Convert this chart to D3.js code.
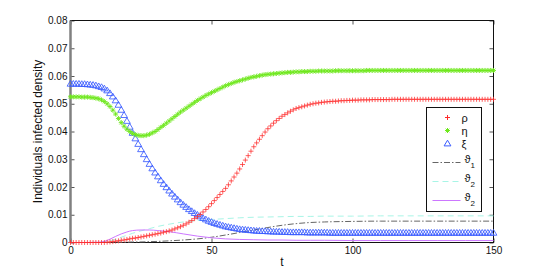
<!DOCTYPE html>
<html>
<head>
<meta charset="utf-8">
<script src="https://cdn.jsdelivr.net/npm/d3@7"></script>
<style>
  body { margin: 0; background: #fff; }
  text { font-family: "Liberation Sans", Arial, sans-serif; }
</style>
</head>
<body>
<div id="chart"></div>
<script>
// time steps of the solution (one marker per unit)
var tSteps = d3.range(0, 151);

// rho (red +)
var rho = [0,0,0,0,0,0,0,0,0,0,
  0,0,0,0.0001,0.0002,0.0003,0.0005,0.0006,0.0008,0.0009,
  0.0011,0.0013,0.0015,0.0016,0.0018,0.0020,0.0022,0.0024,0.0026,0.0028,
  0.0030,0.0032,0.0034,0.0037,0.0039,0.0042,0.0045,0.0049,0.0053,0.0057,
  0.0062,0.0067,0.0073,0.0079,0.0086,0.0093,0.0101,0.0110,0.0119,0.0129,
  0.0140,0.0151,0.0162,0.0173,0.0184,0.0195,0.0208,0.0222,0.0236,0.0250,
  0.0265,0.0281,0.0297,0.0313,0.0329,0.0345,0.0359,0.0372,0.0385,0.0398,
  0.0410,0.0420,0.0430,0.0439,0.0447,0.0455,0.0461,0.0467,0.0473,0.0478,
  0.0483,0.0486,0.0489,0.0492,0.0495,0.0498,0.0500,0.0502,0.0503,0.0505,
  0.0506,0.0507,0.0508,0.0509,0.0509,0.0510,0.0511,0.0511,0.0512,0.0512,
  0.0513,0.0513,0.0513,0.0514,0.0514,0.0514,0.0514,0.0515,0.0515,0.0515,
  0.0515,0.0515,0.0515,0.0515,0.0516,0.0516,0.0516,0.0516,0.0516,0.0516,
  0.0516,0.0516,0.0516,0.0516,0.0516,0.0516,0.0516,0.0516,0.0516,0.0516,
  0.0516,0.0516,0.0516,0.0516,0.0516,0.0516,0.0516,0.0516,0.0516,0.0516,
  0.0516,0.0516,0.0516,0.0516,0.0516,0.0516,0.0516,0.0516,0.0516,0.0516,
  0.0516];

// eta (green *)
var eta = [0.0525,0.0525,0.0525,0.0525,0.0524,0.0524,0.0524,0.0523,0.0522,0.0520,
  0.0518,0.0514,0.0508,0.0500,0.0490,0.0477,0.0463,0.0447,0.0432,0.0419,
  0.0408,0.0400,0.0393,0.0389,0.0386,0.0385,0.0385,0.0387,0.0390,0.0395,
  0.0400,0.0407,0.0415,0.0422,0.0430,0.0438,0.0446,0.0454,0.0462,0.0470,
  0.0477,0.0484,0.0491,0.0498,0.0505,0.0512,0.0518,0.0524,0.0530,0.0535,
  0.0540,0.0545,0.0550,0.0555,0.0560,0.0565,0.0569,0.0573,0.0577,0.0580,
  0.0583,0.0586,0.0589,0.0592,0.0595,0.0597,0.0599,0.0601,0.0603,0.0605,
  0.0606,0.0607,0.0608,0.0609,0.0610,0.0611,0.0612,0.0613,0.0613,0.0614,
  0.0615,0.0615,0.0616,0.0616,0.0616,0.0617,0.0617,0.0617,0.0618,0.0618,
  0.0618,0.0618,0.0618,0.0618,0.0619,0.0619,0.0619,0.0619,0.0619,0.0619,
  0.0619,0.0619,0.0619,0.0619,0.0619,0.0620,0.0620,0.0620,0.0620,0.0620,
  0.0620,0.0620,0.0620,0.0620,0.0620,0.0620,0.0620,0.0620,0.0620,0.0620,
  0.0620,0.0620,0.0620,0.0620,0.0620,0.0620,0.0620,0.0620,0.0620,0.0620,
  0.0620,0.0620,0.0620,0.0620,0.0620,0.0620,0.0620,0.0620,0.0620,0.0620,
  0.0620,0.0620,0.0620,0.0620,0.0620,0.0620,0.0620,0.0620,0.0620,0.0620,
  0.0620];

// xi (blue triangles)
var xi = [0.0572,0.0572,0.0572,0.0572,0.0571,0.0571,0.0570,0.0569,0.0568,0.0566,
  0.0563,0.0560,0.0555,0.0548,0.0538,0.0526,0.0512,0.0496,0.0478,0.0459,
  0.0438,0.0417,0.0395,0.0375,0.0355,0.0336,0.0318,0.0300,0.0283,0.0267,
  0.0252,0.0238,0.0224,0.0211,0.0199,0.0187,0.0176,0.0165,0.0155,0.0145,
  0.0136,0.0128,0.0120,0.0113,0.0106,0.0100,0.0094,0.0088,0.0083,0.0078,
  0.0074,0.0070,0.0067,0.0064,0.0061,0.0058,0.0056,0.0054,0.0052,0.0050,
  0.0048,0.0047,0.0046,0.0045,0.0044,0.0043,0.0042,0.0042,0.0041,0.0041,
  0.0040,0.0040,0.0039,0.0039,0.0039,0.0038,0.0038,0.0038,0.0037,0.0037,
  0.0037,0.0037,0.0037,0.0037,0.0036,0.0036,0.0036,0.0036,0.0036,0.0036,
  0.0036,0.0036,0.0035,0.0035,0.0035,0.0035,0.0035,0.0035,0.0035,0.0035,
  0.0035,0.0035,0.0035,0.0035,0.0035,0.0035,0.0035,0.0035,0.0035,0.0035,
  0.0035,0.0035,0.0035,0.0035,0.0035,0.0035,0.0035,0.0035,0.0035,0.0035,
  0.0035,0.0035,0.0035,0.0035,0.0035,0.0035,0.0035,0.0035,0.0035,0.0035,
  0.0035,0.0035,0.0035,0.0035,0.0035,0.0035,0.0035,0.0035,0.0035,0.0035,
  0.0035,0.0035,0.0035,0.0035,0.0035,0.0035,0.0035,0.0035,0.0035,0.0035,
  0.0035];

// line series, sampled coarser
var tLine = [0,5,10,12,14,16,18,20,22,25,28,31,35,40,45,50,55,60,65,70,75,80,85,90,100,110,120,130,140,150];
var theta1 = [0,0,0,0,0,0.0001,0.0001,0.0001,0.0002,0.0002,0.0003,0.0004,0.0006,0.0009,0.0013,0.0019,0.0027,0.0036,0.0045,0.0054,0.0062,0.0068,0.0072,0.0074,0.0076,0.0077,0.0077,0.0077,0.0077,0.0077];
var theta2a = [0,0,0.0001,0.0003,0.0006,0.0012,0.0019,0.0026,0.0033,0.0042,0.0050,0.0058,0.0066,0.0074,0.0079,0.0083,0.0086,0.0089,0.0091,0.0092,0.0093,0.0094,0.0094,0.0095,0.0095,0.0096,0.0096,0.0096,0.0096,0.0096];
var theta2b = [0,0,0.0001,0.0004,0.0012,0.0022,0.0031,0.0038,0.0043,0.0045,0.0045,0.0043,0.0039,0.0031,0.0023,0.0017,0.0013,0.0011,0.0010,0.0009,0.0009,0.0008,0.0008,0.0008,0.0007,0.0007,0.0007,0.0007,0.0007,0.0007];

var xTicks = [0, 50, 100, 150];
var yTicks = [0, 0.01, 0.02, 0.03, 0.04, 0.05, 0.06, 0.07, 0.08];

var W = 545, H = 273;
var margin = {top: 20.5, right: 51.5, bottom: 30.5, left: 70.5},
    width = W - margin.left - margin.right,
    height = H - margin.top - margin.bottom;

var svg = d3.select("#chart")
    .append("svg")
    .attr("width", W)
    .attr("height", H);

var g = svg.append("g")
    .attr("transform", "translate(" + margin.left + "," + margin.top + ")");

var x = d3.scaleLinear().domain([0, 150]).range([0, width]);
var y = d3.scaleLinear().domain([0, 0.08]).range([height, 0]);

// axes with inward ticks
var fmtY = function(d) { return d === 0 ? "0" : d3.format(".2f")(d); };

var gx = g.append("g")
    .attr("transform", "translate(0," + height + ")")
    .call(d3.axisBottom(x).tickValues(xTicks).tickSize(-4).tickPadding(4));
var gy = g.append("g")
    .call(d3.axisLeft(y).tickValues(yTicks).tickSize(-4).tickPadding(3).tickFormat(fmtY));
var gt = g.append("g")
    .call(d3.axisTop(x).tickValues(xTicks).tickSize(-4).tickFormat(""));
var gr = g.append("g")
    .attr("transform", "translate(" + width + ",0)")
    .call(d3.axisRight(y).tickValues(yTicks).tickSize(-4).tickFormat(""));

[gx, gy, gt, gr].forEach(function(a) {
    a.select(".domain").remove();
    a.selectAll(".tick line").attr("stroke", "#555");
    a.selectAll("text").attr("font-size", 10).attr("fill", "#111")
        .style("font-family", "'Liberation Sans', Arial, sans-serif");
});

// box
g.append("rect")
    .attr("width", width).attr("height", height)
    .attr("fill", "none").attr("stroke", "#111").attr("stroke-width", 1);
g.append("line")
    .attr("x1", 0).attr("x2", 0).attr("y1", 0).attr("y2", height)
    .attr("stroke", "#808080").attr("stroke-width", 2.5);

// lines
var lineGen = d3.line()
    .x(function(d) { return x(d[0]); })
    .y(function(d) { return y(d[1]); })
    .curve(d3.curveMonotoneX);

var lineSeries = [
    {vals: theta1, color: "#666", dash: "6,2,1.5,2", w: 1},
    {vals: theta2a, color: "#a8f5e6", dash: "6,4", w: 1},
    {vals: theta2b, color: "#cc77ff", dash: null, w: 1}
];
lineSeries.forEach(function(s) {
    g.append("path")
        .datum(tLine.map(function(t, i) { return [t, s.vals[i]]; }))
        .attr("fill", "none")
        .attr("stroke", s.color)
        .attr("stroke-width", s.w)
        .attr("stroke-dasharray", s.dash);
});
g.selectAll("path").filter(function(d) { return Array.isArray(d); }).attr("d", lineGen);

// marker shapes
var plusPath = "M-2.5,0H2.5M0,-2.5V2.5";
var starPath = "M-2.5,0H2.5M0,-2.5V2.5M-1.8,-1.8L1.8,1.8M-1.8,1.8L1.8,-1.8";
var triPath = "M0,-3.3L3.4,2.4L-3.4,2.4Z";

function drawMarkers(vals, path, color, op) {
    g.append("g").selectAll("path")
        .data(tSteps)
        .enter()
        .append("path")
        .attr("transform", function(t) { return "translate(" + x(t) + "," + y(vals[t]) + ")"; })
        .attr("d", path)
        .attr("fill", "none")
        .attr("stroke", color)
        .attr("stroke-width", 1)
        .attr("opacity", op);
}
drawMarkers(xi, triPath, "#3a5cff", 0.85);
drawMarkers(eta, starPath, "#6ee81c", 0.9);
drawMarkers(rho, plusPath, "#ff2a2a", 0.75);

// axis labels
svg.append("text")
    .attr("transform", "translate(42," + (margin.top + height / 2) + ") rotate(-90)")
    .attr("text-anchor", "middle")
    .attr("font-size", 12)
    .attr("fill", "#111")
    .text("Individuals infected density");
svg.append("text")
    .attr("x", margin.left + width / 2)
    .attr("y", 266)
    .attr("text-anchor", "middle")
    .attr("font-size", 12)
    .attr("fill", "#111")
    .text("t");

// legend
var leg = svg.append("g").attr("transform", "translate(426.5,107.5)");
leg.append("rect")
    .attr("width", 55).attr("height", 104)
    .attr("fill", "#fff").attr("stroke", "#111").attr("stroke-width", 1);

var legItems = [
    {label: "ρ", sub: null, marker: plusPath, color: "#ff2a2a", y: 10},
    {label: "η", sub: null, marker: starPath, color: "#6ee81c", y: 23},
    {label: "ξ", sub: null, marker: triPath, color: "#3a5cff", y: 36},
    {label: "ϑ", sub: "1", line: lineSeries[0], y: 55},
    {label: "ϑ", sub: "2", line: lineSeries[1], y: 74},
    {label: "ϑ", sub: "2", line: lineSeries[2], y: 93}
];
legItems.forEach(function(it) {
    if (it.marker) {
        leg.append("path")
            .attr("transform", "translate(21," + it.y + ")")
            .attr("d", it.marker)
            .attr("fill", "none").attr("stroke", it.color).attr("stroke-width", 1);
        leg.append("text")
            .attr("x", 35).attr("y", it.y + 4)
            .attr("font-size", 11).attr("fill", "#111")
            .text(it.label);
    } else {
        leg.append("line")
            .attr("x1", 6).attr("x2", 34).attr("y1", it.y).attr("y2", it.y)
            .attr("stroke", it.line.color).attr("stroke-width", 1)
            .attr("stroke-dasharray", it.line.dash);
        var tx = leg.append("text")
            .attr("x", 38).attr("y", it.y)
            .attr("font-size", 11).attr("fill", "#111")
            .text(it.label);
        tx.append("tspan")
            .attr("dy", 5).attr("font-size", 8)
            .text(it.sub);
    }
});
</script>
</body>
</html>
